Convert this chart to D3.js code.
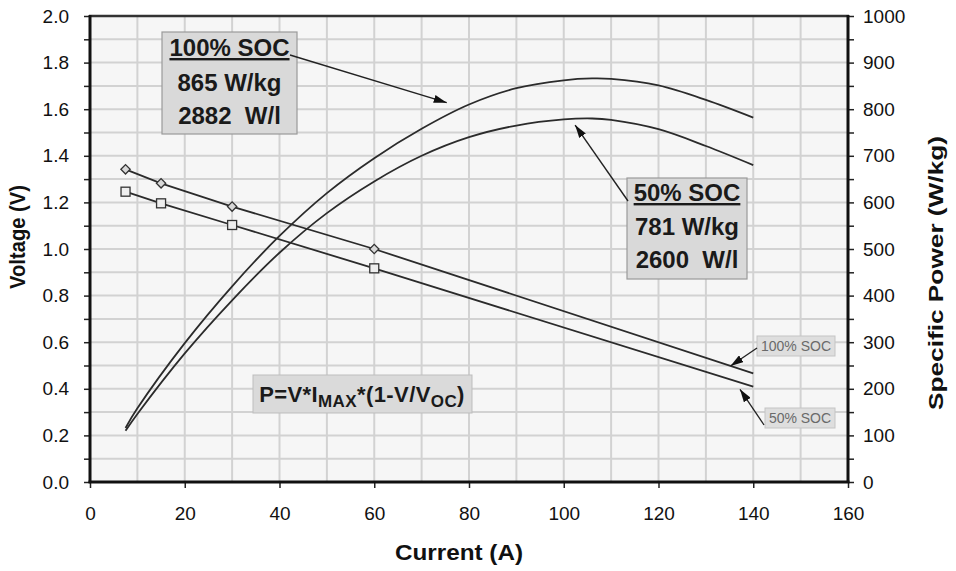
<!DOCTYPE html>
<html><head><meta charset="utf-8">
<script src="https://cdn.jsdelivr.net/npm/d3@7"></script>
<style>body{margin:0;background:#fff;} svg{display:block;font-family:Arial,"Liberation Sans",sans-serif;}</style>
</head><body><svg id="c" width="956" height="571"></svg>
<script>
// ---- data ----
const voltCurrent = [7.5, 15, 30, 60, 140];
const volt100 = [1.342, 1.282, 1.182, 1.000, 0.466];
const volt50  = [1.246, 1.196, 1.103, 0.917, 0.409];
const markerCount = 4;
const powerCurrent = [7.5, 10, 20, 30, 40, 50, 60, 70, 80, 90, 100, 106, 110, 120, 130, 140];
const power100 = [116, 158, 298, 420, 528, 620, 695, 758, 810, 845, 862, 866, 865, 851, 820, 782];
const power50  = [110, 146, 276, 390, 492, 577, 645, 700, 740, 765, 778, 780, 777, 757, 721, 680];
const xTicks = [0, 20, 40, 60, 80, 100, 120, 140, 160];
const vTicks = [0.0, 0.2, 0.4, 0.6, 0.8, 1.0, 1.2, 1.4, 1.6, 1.8, 2.0];
const pTicks = [0, 100, 200, 300, 400, 500, 600, 700, 800, 900, 1000];

// ---- layout ----
const L = 90, R = 848, T = 16, B = 482;
const svg = d3.select("#c");
const x = d3.scaleLinear().domain([0, 160]).range([L, R]);
const yV = d3.scaleLinear().domain([0, 2]).range([B, T]);
const yP = d3.scaleLinear().domain([0, 1000]).range([B, T]);
const ink = "#2b2b2b";

const defs = svg.append("defs");
defs.append("marker").attr("id", "ah").attr("viewBox", "0 0 13 8").attr("refX", 13).attr("refY", 4)
  .attr("markerWidth", 13).attr("markerHeight", 8).attr("markerUnits", "userSpaceOnUse").attr("orient", "auto")
  .append("path").attr("d", "M0,0L13,4L0,8Z").attr("fill", "#111");

// background
svg.append("rect").attr("x", L).attr("y", T).attr("width", R - L).attr("height", B - T).attr("fill", "#f6f6f6");

// grid
const gx = d3.range(10, 160, 10), gy = d3.range(0.1, 2.0, 0.1);
svg.append("g").selectAll("line").data(gx).join("line")
  .attr("x1", d => x(d)).attr("x2", d => x(d)).attr("y1", T).attr("y2", B)
  .attr("stroke", "#d2d2d2").attr("stroke-width", 2);
svg.append("g").selectAll("line").data(gy).join("line")
  .attr("y1", d => yV(d)).attr("y2", d => yV(d)).attr("x1", L).attr("x2", R)
  .attr("stroke", "#d2d2d2").attr("stroke-width", 2);

// axes
const tickFont = g => g.selectAll("text").attr("font-size", 19).attr("fill", "#111").attr("font-family", "Arial, 'Liberation Sans', sans-serif");
const axB = svg.append("g").attr("transform", `translate(0,${B})`)
  .call(d3.axisBottom(x).tickValues(xTicks).tickFormat(d3.format("d")).tickSize(6).tickPadding(19));
const axL = svg.append("g").attr("transform", `translate(${L},0)`)
  .call(d3.axisLeft(yV).tickValues(d3.range(0, 2.01, 0.1)).tickFormat(d => {
    const r = Math.round(d * 10);
    return r % 2 === 0 ? d3.format(".1f")(d) : "";
  }).tickSize(6).tickPadding(15));
const axR = svg.append("g").attr("transform", `translate(${R},0)`)
  .call(d3.axisRight(yP).tickValues(d3.range(0, 1001, 50)).tickFormat(d => d % 100 === 0 ? d : "").tickSize(6).tickPadding(9));
[axB, axL, axR].forEach(a => {
  a.select(".domain").remove();
  a.selectAll(".tick line").attr("stroke", "#222").attr("stroke-width", 1.5);
  tickFont(a);
});

// frame
svg.append("line").attr("x1", L - 1).attr("x2", R + 1).attr("y1", T).attr("y2", T).attr("stroke", "#333").attr("stroke-width", 2.5);
svg.append("line").attr("x1", L - 1.5).attr("x2", R + 1.5).attr("y1", B).attr("y2", B).attr("stroke", "#111").attr("stroke-width", 3);
svg.append("line").attr("x1", L).attr("x2", L).attr("y1", T - 1).attr("y2", B + 1).attr("stroke", "#111").attr("stroke-width", 3);
svg.append("line").attr("x1", R).attr("x2", R).attr("y1", T - 1).attr("y2", B + 1).attr("stroke", "#111").attr("stroke-width", 3);

// power curves
const pLine = d3.line().x(d => x(d[0])).y(d => yP(d[1])).curve(d3.curveCatmullRom.alpha(0.5));
[power100, power50].forEach(p => {
  svg.append("path").datum(powerCurrent.map((c, i) => [c, p[i]]))
    .attr("d", pLine).attr("fill", "none").attr("stroke", ink).attr("stroke-width", 1.8);
});

// voltage lines
const vLine = d3.line().x(d => x(d[0])).y(d => yV(d[1]));
[volt100, volt50].forEach(v => {
  svg.append("path").datum(voltCurrent.map((c, i) => [c, v[i]]))
    .attr("d", vLine).attr("fill", "none").attr("stroke", ink).attr("stroke-width", 1.8);
});
// markers
svg.append("g").selectAll("rect").data(voltCurrent.slice(0, markerCount).map((c, i) => [c, volt100[i]])).join("rect")
  .attr("x", -3.3).attr("y", -3.3).attr("width", 6.6).attr("height", 6.6)
  .attr("transform", d => `translate(${x(d[0])},${yV(d[1])}) rotate(45)`)
  .attr("fill", "#d8d8d8").attr("stroke", "#333").attr("stroke-width", 1.3);
svg.append("g").selectAll("rect").data(voltCurrent.slice(0, markerCount).map((c, i) => [c, volt50[i]])).join("rect")
  .attr("x", d => x(d[0]) - 4.5).attr("y", d => yV(d[1]) - 4.5).attr("width", 9).attr("height", 9)
  .attr("fill", "#eee").attr("stroke", "#333").attr("stroke-width", 1.3);

// big annotation boxes
function bigBox(bx, by, bw, bh, lines, cx) {
  svg.append("rect").attr("x", bx).attr("y", by).attr("width", bw).attr("height", bh)
    .attr("fill", "#d9d9d9").attr("stroke", "#9a9a9a").attr("stroke-width", 1.2);
  lines.forEach(l => {
    const t = svg.append("text").attr("x", cx).attr("y", l.y).attr("text-anchor", "middle")
      .attr("font-size", 24).attr("font-weight", "bold").attr("fill", "#1a1a1a").attr("xml:space", "preserve").text(l.t);
    if (l.u) t.attr("text-decoration", "underline");
  });
}
bigBox(162, 32, 135, 102, [{t: "100% SOC", y: 56, u: true}, {t: "865 W/kg", y: 91}, {t: "2882  W/l", y: 124}], 229.5);
bigBox(627, 178, 120, 101, [{t: "50% SOC", y: 201, u: true}, {t: "781 W/kg", y: 235}, {t: "2600  W/l", y: 268}], 687);

// arrows
function arrow(x1, y1, x2, y2, w) {
  svg.append("line").attr("x1", x1).attr("y1", y1).attr("x2", x2).attr("y2", y2)
    .attr("stroke", "#222").attr("stroke-width", w || 1.4).attr("marker-end", "url(#ah)");
}
arrow(290, 55, x(75.3), yP(814));
arrow(628, 201, x(102.4), yP(766));

// small labels
function smallBox(bx, by, bw, bh, t) {
  svg.append("rect").attr("x", bx).attr("y", by).attr("width", bw).attr("height", bh)
    .attr("fill", "#dedede").attr("stroke", "#c4c4c4").attr("stroke-width", 1);
  svg.append("text").attr("x", bx + bw / 2).attr("y", by + bh / 2 + 5).attr("text-anchor", "middle")
    .attr("font-size", 14).attr("fill", "#6a6a6a").text(t);
}
smallBox(757, 336, 78, 20, "100% SOC");
smallBox(765, 408, 70, 20, "50% SOC");
arrow(757, 348, x(135.2), yV(0.498), 1.3);
arrow(764, 425, x(137.2), yV(0.398), 1.3);

// formula box
svg.append("rect").attr("x", 253).attr("y", 375).attr("width", 219).attr("height", 38)
  .attr("fill", "#dadada").attr("stroke", "#bdbdbd").attr("stroke-width", 1);
const ft = svg.append("text").attr("x", 362).attr("y", 402).attr("text-anchor", "middle")
  .attr("font-size", 22).attr("font-weight", "bold").attr("fill", "#1a1a1a").attr("letter-spacing", 0.4);
ft.append("tspan").text("P=V*I");
ft.append("tspan").attr("font-size", 17).attr("dy", 5).text("MAX");
ft.append("tspan").attr("dy", -5).text("*(1-V/V");
ft.append("tspan").attr("font-size", 17).attr("dy", 5).text("OC");
ft.append("tspan").attr("dy", -5).text(")");

// axis titles
svg.append("text").attr("transform", "translate(25,237) rotate(-90)").attr("text-anchor", "middle")
  .attr("font-size", 22).attr("font-weight", "bold").attr("fill", "#111")
  .attr("textLength", 104).attr("lengthAdjust", "spacingAndGlyphs").text("Voltage (V)");
svg.append("text").attr("transform", "translate(943,273) rotate(-90)").attr("text-anchor", "middle")
  .attr("font-size", 21).attr("font-weight", "bold").attr("fill", "#111")
  .attr("textLength", 274).attr("lengthAdjust", "spacingAndGlyphs").text("Specific Power (W/kg)");
svg.append("text").attr("x", 459).attr("y", 560).attr("text-anchor", "middle")
  .attr("font-size", 22).attr("font-weight", "bold").attr("fill", "#111")
  .attr("textLength", 128).attr("lengthAdjust", "spacingAndGlyphs").text("Current (A)");
</script></body></html>
